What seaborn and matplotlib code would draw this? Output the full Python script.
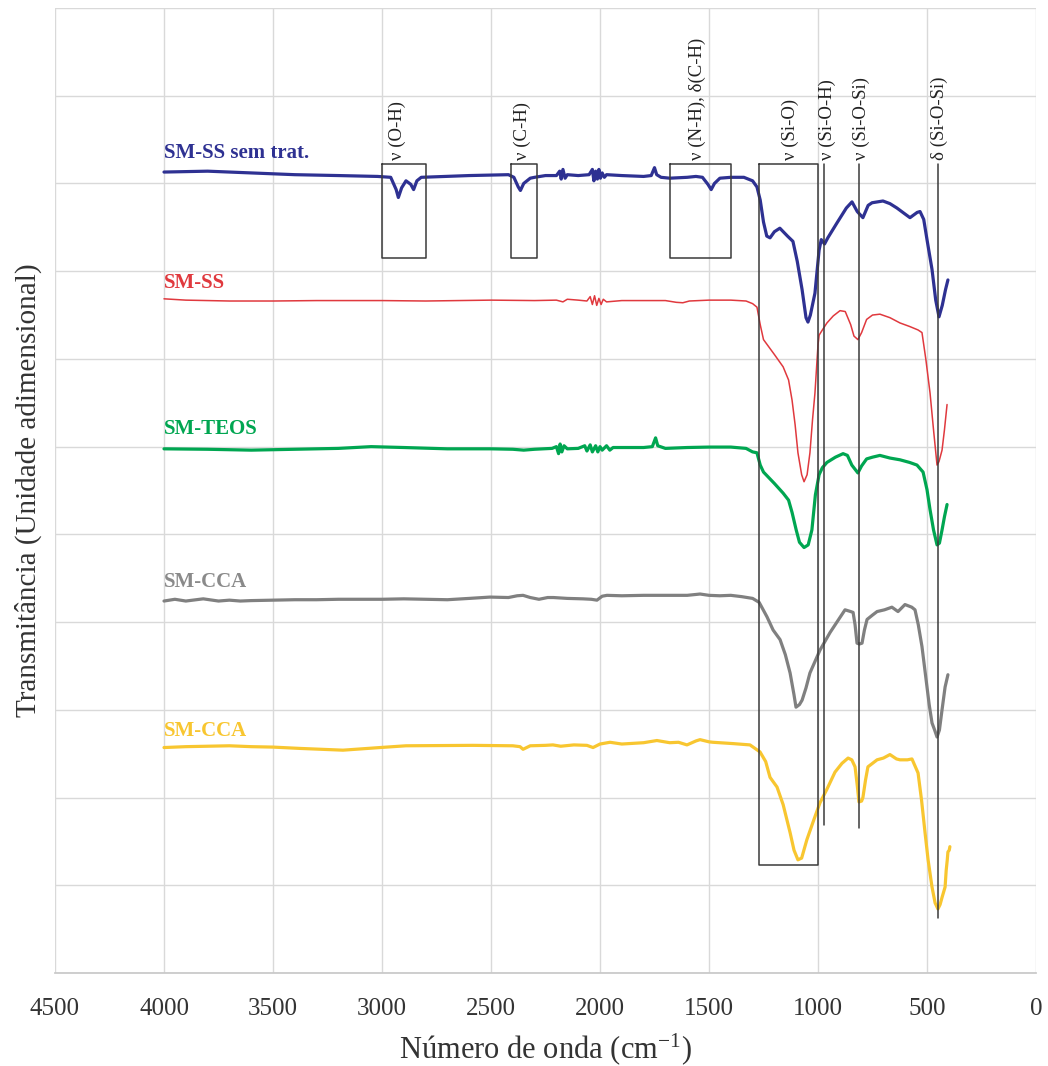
import numpy as np
import pandas as pd
import seaborn as sns
import matplotlib.pyplot as plt

# spectra (wavenumber in cm-1, transmittance in arbitrary units)
ss_raw_w = [4000, 3800, 3600, 3400, 3200, 3020, 2960, 2935, 2925, 2910, 2890, 2868, 2855, 2840, 2820,
            2600, 2420, 2395, 2375, 2365, 2350, 2320, 2300, 2250, 2200, 2185, 2178, 2170, 2160, 2150,
            2100, 2050, 2035, 2028, 2020, 2012, 2005, 1998, 1990, 1980, 1970, 1900, 1800, 1765, 1750,
            1740, 1720, 1680, 1600, 1560, 1530, 1505, 1490, 1475, 1450, 1400, 1340, 1300, 1280, 1265,
            1250, 1235, 1220, 1200, 1175, 1140, 1115, 1095, 1073, 1055, 1046, 1035, 1014, 995, 985,
            970, 955, 913, 870, 844, 820, 794, 770, 752, 702, 670, 638, 600, 578, 545, 532, 515, 500,
            477, 460, 445, 430, 415, 404]
ss_raw_t = [91.3, 91.4, 91.2, 91.0, 90.9, 90.8, 90.7, 89.3, 88.4, 89.5, 90.3, 89.9, 89.3, 90.3, 90.7,
            90.9, 91.0, 90.7, 89.6, 89.2, 90.0, 90.6, 90.7, 90.9, 90.9, 91.4, 90.5, 91.6, 90.6, 91.0,
            90.9, 91.0, 91.6, 90.3, 91.4, 90.5, 91.6, 90.6, 91.2, 90.7, 91.0, 90.9, 90.8, 90.9, 91.8,
            91.0, 90.7, 90.6, 90.7, 90.8, 90.7, 89.9, 89.3, 90.0, 90.6, 90.7, 90.7, 90.3, 89.6, 88.1,
            85.6, 84.0, 83.8, 84.5, 84.9, 84.0, 83.4, 81.1, 77.9, 74.7, 74.2, 75.0, 77.5, 82.4, 83.6,
            83.1, 83.8, 85.5, 87.2, 87.9, 86.8, 86.1, 87.5, 87.8, 88.0, 87.7, 87.2, 86.5, 86.1, 86.7,
            86.8, 85.9, 83.6, 80.2, 76.7, 74.8, 76.1, 77.9, 79.0]

ss_w = [4000, 3900, 3700, 3500, 3300, 3000, 2800, 2500, 2300, 2200, 2170, 2150, 2100, 2060, 2045,
        2035, 2025, 2015, 2005, 1995, 1985, 1970, 1900, 1700, 1650, 1620, 1590, 1500, 1400, 1330,
        1300, 1280, 1265, 1250, 1200, 1160, 1135, 1119, 1105, 1092, 1075, 1064, 1050, 1037, 1025,
        1014, 1000, 995, 980, 959, 930, 899, 875, 850, 835, 817, 800, 777, 750, 716, 670, 624, 580,
        541, 523, 505, 486, 470, 454, 445, 431, 420, 408]
ss_t = [76.85, 76.7, 76.6, 76.6, 76.65, 76.65, 76.6, 76.7, 76.65, 76.7, 76.5, 76.8, 76.7, 76.6, 77.1,
        76.2, 77.2, 76.1, 76.9, 76.2, 76.8, 76.5, 76.65, 76.65, 76.45, 76.4, 76.6, 76.7, 76.7, 76.6,
        76.3, 75.9, 73.9, 72.2, 70.5, 69.1, 67.6, 65.3, 62.5, 59.3, 56.8, 56.0, 56.8, 59.3, 63.1,
        66.1, 71.6, 72.7, 73.3, 74.1, 74.9, 75.5, 75.4, 73.9, 72.6, 72.2, 73.0, 74.5, 75.0, 75.1,
        74.7, 74.1, 73.7, 73.3, 73.0, 69.9, 66.1, 61.9, 57.9, 58.3, 59.6, 61.9, 64.8]

teos_w = [4000, 3800, 3600, 3400, 3200, 3050, 2900, 2700, 2500, 2400, 2350, 2300, 2220, 2200, 2190,
          2183, 2175, 2165, 2150, 2100, 2070, 2060, 2045, 2035, 2020, 2010, 2000, 1990, 1970, 1955,
          1940, 1800, 1760, 1745, 1735, 1700, 1600, 1500, 1400, 1330, 1300, 1280, 1265, 1250, 1200,
          1160, 1135, 1119, 1100, 1085, 1064, 1045, 1028, 1012, 995, 980, 959, 920, 885, 865, 845,
          817, 800, 777, 750, 716, 670, 624, 580, 546, 518, 500, 486, 470, 454, 443, 431, 420, 408]
teos_t = [59.75, 59.7, 59.6, 59.7, 59.8, 60.0, 59.9, 59.75, 59.75, 59.7, 59.6, 59.7, 59.8, 60.0, 59.2,
          60.3, 59.4, 60.1, 59.75, 59.8, 60.1, 59.5, 60.2, 59.4, 60.1, 59.4, 60.0, 59.6, 60.1, 59.6,
          59.9, 59.9, 60.0, 61.0, 60.1, 59.8, 59.9, 59.95, 59.95, 59.8, 59.4, 59.3, 57.9, 57.1, 55.8,
          54.7, 53.9, 52.5, 50.5, 49.1, 48.5, 48.8, 50.5, 54.5, 56.8, 57.6, 58.2, 58.8, 59.2, 59.0,
          57.9, 57.0, 57.8, 58.6, 58.8, 59.0, 58.7, 58.5, 58.2, 57.9, 57.1, 55.1, 52.8, 50.5, 48.8,
          49.0, 50.5, 52.0, 53.4]

cca_w = [4000, 3950, 3900, 3820, 3750, 3700, 3650, 3600, 3500, 3400, 3300, 3200, 3100, 3000, 2900,
         2800, 2700, 2600, 2505, 2420, 2380, 2353, 2320, 2280, 2240, 2214, 2150, 2078, 2040, 2014,
         1990, 1968, 1900, 1800, 1700, 1600, 1560, 1541, 1500, 1450, 1400, 1350, 1300, 1270, 1234,
         1206, 1174, 1150, 1128, 1110, 1101, 1085, 1073, 1055, 1037, 991, 945, 900, 876, 850, 839,
         830, 821, 810, 798, 787, 775, 750, 729, 695, 661, 633, 601, 570, 555, 540, 523, 500, 490,
         477, 465, 454, 443, 431, 417, 404]
cca_t = [42.4, 42.6, 42.4, 42.65, 42.4, 42.5, 42.4, 42.45, 42.5, 42.55, 42.55, 42.6, 42.6, 42.6, 42.65,
         42.6, 42.55, 42.7, 42.85, 42.8, 43.0, 43.05, 42.8, 42.6, 42.8, 42.8, 42.7, 42.65, 42.6, 42.5,
         42.95, 43.05, 43.0, 43.05, 43.05, 43.05, 43.15, 43.2, 43.05, 43.0, 43.05, 42.9, 42.7, 42.25,
         40.6, 39.1, 38.0, 36.3, 34.2, 31.7, 30.3, 30.6, 31.1, 32.5, 34.2, 36.8, 38.8, 40.5, 41.4,
         41.2, 41.1, 39.7, 37.6, 37.5, 37.6, 39.1, 40.3, 40.8, 41.2, 41.4, 41.7, 41.2, 42.0, 41.7,
         41.4, 39.7, 37.2, 32.6, 30.6, 28.5, 27.7, 26.9, 27.7, 30.0, 32.6, 34.0]

cca2_w = [4000, 3900, 3800, 3700, 3600, 3500, 3376, 3179, 3009, 2890, 2583, 2400, 2367, 2353, 2320,
          2250, 2216, 2180, 2120, 2060, 2032, 2000, 1954, 1900, 1800, 1739, 1680, 1640, 1601, 1560,
          1541, 1500, 1482, 1390, 1312, 1266, 1240, 1220, 1188, 1160, 1128, 1110, 1092, 1075, 1051,
          1020, 991, 960, 922, 890, 862, 845, 830, 820, 812, 800, 794, 782, 771, 729, 700, 670, 640,
          624, 590, 569, 541, 525, 509, 495, 477, 463, 450, 440, 430, 417, 412, 407, 404, 398, 395]
cca2_t = [25.7, 25.8, 25.85, 25.9, 25.8, 25.75, 25.6, 25.4, 25.7, 25.9, 25.95, 25.9, 25.8, 25.5, 25.9,
          25.95, 26.0, 25.85, 26.0, 25.95, 25.7, 26.1, 26.3, 26.1, 26.25, 26.5, 26.25, 26.3, 26.0, 26.45,
          26.6, 26.35, 26.3, 26.15, 26.0, 25.2, 24.1, 22.3, 21.2, 19.2, 16.0, 14.0, 12.9, 13.1, 15.2,
          17.4, 19.4, 20.9, 22.9, 23.9, 24.5, 24.3, 23.5, 21.4, 19.5, 19.6, 20.0, 22.0, 23.5, 24.3,
          24.5, 24.9, 24.4, 24.3, 24.3, 24.4, 22.8, 19.7, 16.0, 12.9, 9.8, 8.0, 7.3, 7.8, 8.7, 9.8,
          11.7, 12.9, 13.8, 14.0, 14.4]

names = ['SM-SS sem trat.', 'SM-SS', 'SM-TEOS', 'SM-CCA', 'SM-CCA']
colors = ['#2e3192', '#e0393e', '#00a651', '#808080', '#f8c630']
label_colors = ['#2e3192', '#e0393e', '#00a651', '#8a8a8a', '#f8c630']
label_y = [93.5, 78.6, 62.0, 44.6, 27.6]

# band annotations
box_left = [3000, 2410, 1680, 1270]
box_right = [2800, 2290, 1400, 1000]
box_bottom = [81.5, 81.5, 81.5, 12.3]
line_x = [972, 812, 450]
line_bottom = [16.9, 16.5, 6.3]
band_top = 92.2
band_labels = ['ν (O-H)', 'ν (C-H)', 'ν (N-H), δ(C-H)', 'ν (Si-O)', 'ν (Si-O-H)', 'ν (Si-O-Si)', 'δ (Si-O-Si)']
band_x = [2930, 2355, 1555, 1125, 955, 800, 445]

sns.set_theme(style='whitegrid')
plt.rcParams['font.family'] = ['Liberation Serif', 'DejaVu Serif']
plt.rcParams['mathtext.default'] = 'regular'

fig = plt.figure(figsize=(10.48, 10.66), dpi=100)
ax = fig.add_axes([55/1048, 93/1066, 981/1048, 965/1066])

series = [(ss_raw_w, ss_raw_t, 2.3), (ss_w, ss_t, 1.1), (teos_w, teos_t, 2.3),
          (cca_w, cca_t, 2.3), (cca2_w, cca2_t, 2.3)]
for i, (w, t, lw) in enumerate(series):
    df = pd.DataFrame({'w': w, 't': t})
    sns.lineplot(data=df, x='w', y='t', ax=ax, color=colors[i], linewidth=lw,
                 estimator=None, sort=False)
    ax.text(4000, label_y[i], names[i], color=label_colors[i], fontsize=15,
            fontweight='bold', ha='left', va='center')

box_kw = dict(color='#3a3a3a', linewidth=1.1)
for l, r, b in zip(box_left, box_right, box_bottom):
    ax.plot([l, r, r, l, l], [band_top, band_top, b, b, band_top], **box_kw)
for x, b in zip(line_x, line_bottom):
    ax.plot([x, x], [band_top, b], **box_kw)
for x, s in zip(band_x, band_labels):
    ax.text(x, 92.7, s, rotation=90, ha='center', va='bottom', fontsize=13.5, color='#222222')

ax.set_xlim(4500, 0)
ax.set_ylim(0, 110)
ax.set_xticks(np.arange(0, 4501, 500))
ax.set_yticks(np.arange(0, 111, 10))
ax.set_yticklabels([])
ax.grid(True, color='#d9d9d9', linewidth=1.0)
ax.tick_params(axis='x', labelsize=18, pad=18, length=0, colors='#333333')
ax.tick_params(axis='y', length=0)
for s in ['top', 'right', 'left']:
    ax.spines[s].set_visible(False)
ax.spines['bottom'].set_color('#c8c8c8')
ax.set_xlabel('Número de onda (cm$^{-1}$)', fontsize=22, color='#333333', labelpad=8)
ax.set_ylabel('Transmitância (Unidade adimensional)', fontsize=21, color='#333333')
ax.yaxis.set_label_coords(-0.013, 0.5)

fig.savefig('out.png', dpi=100, facecolor='white')
